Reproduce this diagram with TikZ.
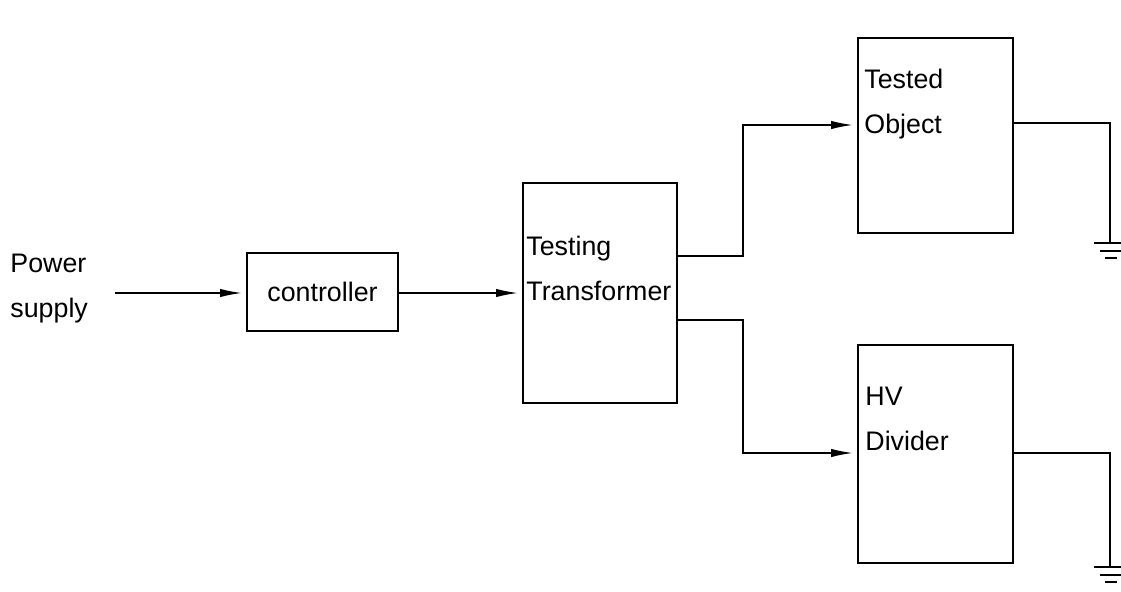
\documentclass[tikz,border=0pt]{standalone}
\usepackage{fontspec}
\setmainfont{Liberation Sans}
\usetikzlibrary{arrows.meta,positioning}

\tikzset{
  blk/.style={draw, line width=0.9pt, rectangle, inner sep=0pt},
  lbl/.style={font=\fontsize{13.4}{22.5}\selectfont, inner sep=0pt, align=left},
  wire/.style={line width=0.85pt},
  feed/.style={wire, -{Latex[length=11pt,width=4.2pt]}, shorten >=2pt}
}

\begin{document}
\begin{tikzpicture}[x=0.5pt,y=-0.5pt]
    \useasboundingbox (0,0) rectangle (1121,592);
    % Draw the blocks
    \node[blk, minimum width=75.5pt, minimum height=39pt] (ctrl) at (322.5,292) {};
    \node[blk, minimum width=77pt, minimum height=110pt] (trans) at (600,293) {};
    \node[blk, minimum width=77.5pt, minimum height=97.5pt] (obj) at (935.5,135.5) {};
    \node[blk, minimum width=77.5pt, minimum height=109pt] (hvd) at (935.5,454) {};
    % Label the blocks
    \node[lbl] (ctrl-txt) at (ctrl) {controller};
    \node[lbl, anchor=west] (trans-txt) at (526,268) {Testing\\Transformer};
    \node[lbl, anchor=west] (obj-txt) at (864,104) {Tested\\Object};
    \node[lbl, anchor=west] (hvd-txt) at (865,419) {HV\\Divider};
    \node[lbl, anchor=west] (src) at (10,289) {Power\\supply};
    % Draw the feed lines
    \coordinate (src-end) at (115,293);
    \draw[feed] (src-end) -- (ctrl.west |- src-end);
    \draw[feed] (ctrl.east |- src-end) -- (trans.west |- src-end);
    \coordinate (t-up) at (trans.east |- 0,256);
    \coordinate (t-dn) at (trans.east |- 0,320);
    \draw[feed] (t-up) -| (743,190) |- (obj.west |- 0,125);
    \draw[feed] (t-dn) -| (743,400) |- (hvd.west |- 0,453);
    % Draw the earth leads
    \foreach \n/\yo/\yg in {obj/123/243, hvd/453/567}{
      \draw[wire] (\n.east |- 0,\yo) -| (1110,\yg);
      \draw[wire] (1094,\yg) -- (1121,\yg);
      \draw[wire] (1100,\yg+8) -- (1121,\yg+8);
      \draw[wire] (1105,\yg+15) -- (1117,\yg+15);
    }
  \end{tikzpicture}
\end{document}
